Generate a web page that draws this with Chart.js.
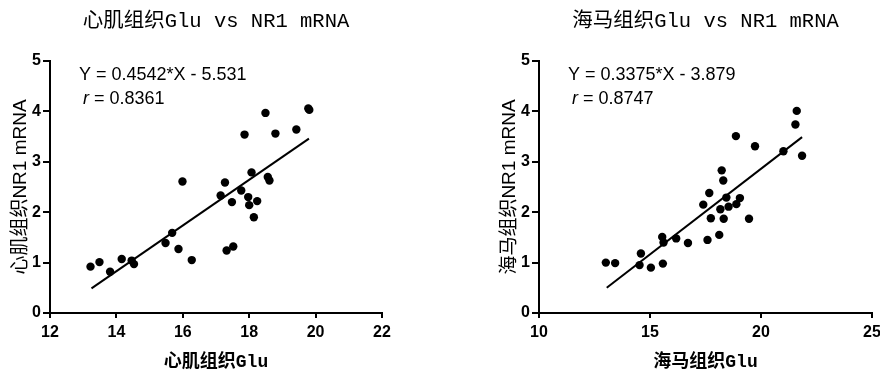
<!DOCTYPE html>
<html><head><meta charset="utf-8">
<script src="https://cdn.jsdelivr.net/npm/chart.js@4/dist/chart.umd.min.js"></script>
<style>
html,body{margin:0;padding:0;background:#fff;}
#wrap{position:relative;width:880px;height:374px;overflow:hidden;background:#fff;}
canvas{position:absolute;top:0;}
#c1{left:0;} #c2{left:440px;}
</style></head><body>
<div id="wrap"><canvas id="c1" width="440" height="374"></canvas><canvas id="c2" width="470" height="374"></canvas></div>
<script>
// ---- Heart (心肌) panel ----
const heartTitle = '心肌组织Glu vs NR1 mRNA';
const heartXTitle = '心肌组织Glu';
const heartYTitle = '心肌组织NR1 mRNA';
const heartEq = 'Y = 0.4542*X - 5.531';
const heartR = ' = 0.8361';
const heartXTicks = [12, 14, 16, 18, 20, 22];
const heartYTicks = [0, 1, 2, 3, 4, 5];
const heartX = [13.22,13.49,13.81,14.16,14.46,14.53,15.48,15.68,15.87,15.99,16.27,17.14,17.27,17.32,17.52,17.48,17.76,17.86,17.97,18.00,18.07,18.14,18.24,18.49,18.56,18.61,18.79,19.42,19.78,19.81];
const heartY = [0.92,1.01,0.82,1.07,1.04,0.97,1.39,1.59,1.27,2.61,1.05,2.33,2.59,1.24,1.32,2.20,2.43,3.54,2.30,2.14,2.79,1.90,2.22,3.97,2.70,2.63,3.56,3.64,4.06,4.03];
const heartLineX = [13.25, 19.8];
const heartLineY = [0.49, 3.46];

// ---- Hippocampus (海马) panel ----
const hippoTitle = '海马组织Glu vs NR1 mRNA';
const hippoXTitle = '海马组织Glu';
const hippoYTitle = '海马组织NR1 mRNA';
const hippoEq = 'Y = 0.3375*X - 3.879';
const hippoR = ' = 0.8747';
const hippoXTicks = [10, 15, 20, 25];
const hippoYTicks = [0, 1, 2, 3, 4, 5];
const hippoX = [13.01,13.43,14.59,14.53,15.04,15.55,15.61,15.58,16.18,16.71,17.40,17.59,17.67,17.74,18.12,18.17,18.23,18.30,18.32,18.44,18.54,18.89,19.05,18.87,19.46,19.73,21.01,21.55,21.61,21.85];
const hippoY = [1.00,0.99,1.18,0.95,0.90,1.51,1.40,0.98,1.48,1.39,2.15,1.45,2.38,1.88,1.55,2.06,2.83,2.63,1.87,2.29,2.11,2.16,2.28,3.51,1.87,3.31,3.21,3.74,4.01,3.12];
const hippoLineX = [13.05, 21.85];
const hippoLineY = [0.50, 3.49];

const CJK = '"Noto Sans CJK SC"';
const annotPlugin = {
  id: 'annot',
  afterDraw(chart, args, o) {
    const {ctx, chartArea} = chart;
    ctx.save();
    ctx.fillStyle = '#000';
    ctx.textBaseline = 'middle';
    ctx.textAlign = 'left';
    ctx.font = '18px "Liberation Sans", Arial, sans-serif';
    ctx.fillText(o.eq, chartArea.left + o.dx, chartArea.top + 14);
    ctx.font = 'italic 18px "Liberation Sans", Arial, sans-serif';
    const rx = chartArea.left + o.dx + 4;
    ctx.fillText('r', rx, chartArea.top + 38);
    const w = ctx.measureText('r').width;
    ctx.font = '18px "Liberation Sans", Arial, sans-serif';
    ctx.fillText(o.r, rx + w, chartArea.top + 38);
    ctx.restore();
  }
};

function toPts(xs, ys) { return xs.map((x, i) => ({x: x, y: ys[i]})); }

function makeChart(id, p) {
  new Chart(document.getElementById(id), {
    type: 'scatter',
    data: {
      datasets: [
        { type: 'line', data: toPts(p.lx, p.ly), borderColor: '#000', borderWidth: 2, pointRadius: 0, fill: false, showLine: true, order: 2 },
        { type: 'scatter', data: toPts(p.x, p.y), backgroundColor: '#000', borderWidth: 0, pointRadius: 4.2, order: 1 }
      ]
    },
    plugins: [annotPlugin],
    options: {
      responsive: false,
      animation: false,
      devicePixelRatio: 1,
      layout: { padding: p.pad },
      plugins: {
        legend: { display: false },
        tooltip: { enabled: false },
        title: {
          display: true, text: p.title, fullSize: false, color: '#000',
          font: { family: '"Liberation Mono", ' + CJK, size: 20.5, weight: 'normal', lineHeight: 1.2 },
          padding: { top: 9, bottom: 27.4 }
        },
        annot: { eq: p.eq, r: p.r, dx: 29 }
      },
      scales: {
        x: {
          type: 'linear', min: p.xTicks[0], max: p.xTicks[p.xTicks.length - 1],
          afterBuildTicks: s => { s.ticks = p.xTicks.map(v => ({value: v})); },
          afterFit: s => { s.height = 61; },
          ticks: { color: '#000', padding: 5, font: { family: '"Liberation Sans", Arial', size: 16, weight: 'bold' } },
          grid: { display: true, drawOnChartArea: false, drawTicks: true, tickLength: 5, color: '#000', lineWidth: 2 },
          border: { display: true, color: '#000', width: 2 },
          title: { display: true, text: p.xTitle, color: '#000', padding: { top: 0, bottom: 1 },
            font: { family: '"Liberation Mono", ' + CJK, size: 18, weight: 'bold', lineHeight: 1.2 } }
        },
        y: {
          type: 'linear', min: p.yTicks[0], max: p.yTicks[p.yTicks.length - 1],
          afterBuildTicks: s => { s.ticks = p.yTicks.map(v => ({value: v})); },
          afterFit: s => { s.width = 50; },
          ticks: { color: '#000', padding: 2, font: { family: '"Liberation Sans", Arial', size: 16, weight: 'bold' } },
          grid: { display: true, drawOnChartArea: false, drawTicks: true, tickLength: 7, color: '#000', lineWidth: 2 },
          border: { display: true, color: '#000', width: 2 },
          title: { display: true, text: p.yTitle, color: '#000', padding: { top: 9, bottom: 0 },
            font: { family: '"Liberation Sans", ' + CJK, size: 19, lineHeight: 1.2 } }
        }
      }
    }
  });
}

makeChart('c1', { title: heartTitle, xTitle: heartXTitle, yTitle: heartYTitle, eq: heartEq, r: heartR,
  xTicks: heartXTicks, yTicks: heartYTicks, x: heartX, y: heartY, lx: heartLineX, ly: heartLineY,
  pad: { left: 0, right: 58, top: 0, bottom: 0 } });
makeChart('c2', { title: hippoTitle, xTitle: hippoXTitle, yTitle: hippoYTitle, eq: hippoEq, r: hippoR,
  xTicks: hippoXTicks, yTicks: hippoYTicks, x: hippoX, y: hippoY, lx: hippoLineX, ly: hippoLineY,
  pad: { left: 49, right: 38, top: 0, bottom: 0 } });
</script>
</body></html>
